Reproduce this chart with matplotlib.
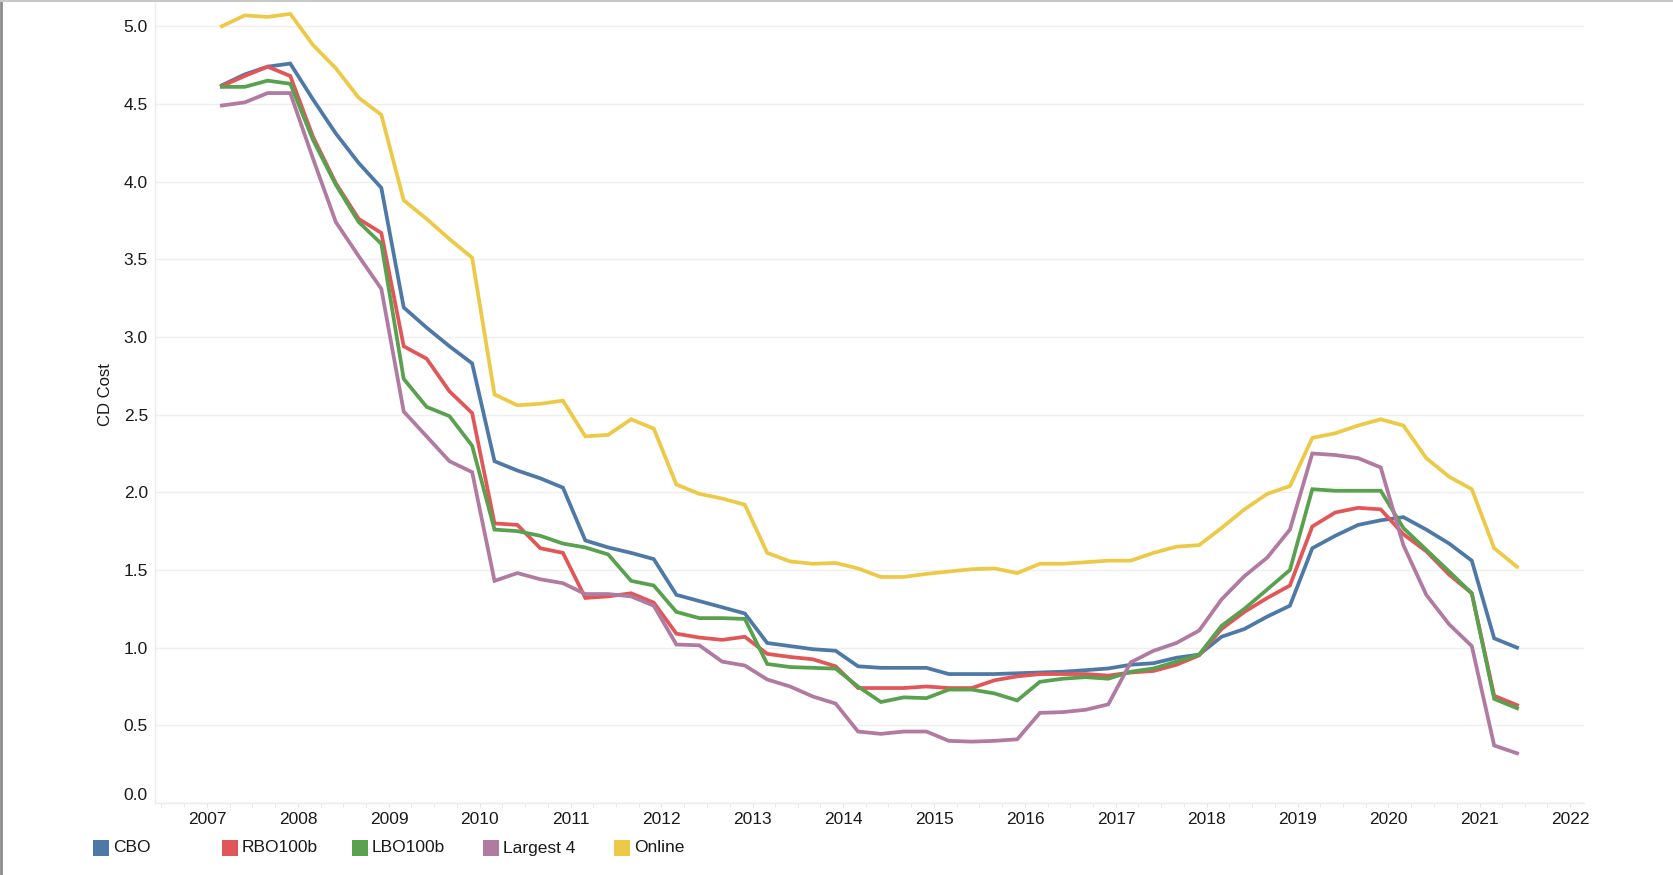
import datetime

import matplotlib.dates as mdates
import matplotlib.pyplot as plt
import pandas as pd
from matplotlib.lines import Line2D
from matplotlib.patches import Rectangle

plt.rcParams["font.family"] = ["Liberation Sans", "DejaVu Sans"]

# quarterly observations, Mar 2007 .. Jun 2021
dates = pd.date_range("2007-03-01", periods=58, freq="3MS")

cbo = [4.62, 4.69, 4.74, 4.76, 4.53, 4.31, 4.12, 3.96, 3.19, 3.06, 2.94, 2.83,
       2.20, 2.14, 2.09, 2.03, 1.69, 1.645, 1.61, 1.57,
       1.34, 1.30, 1.26, 1.22, 1.03, 1.01, 0.99, 0.98,
       0.88, 0.87, 0.87, 0.87, 0.83, 0.83, 0.83, 0.835,
       0.84, 0.845, 0.855, 0.866, 0.89, 0.90, 0.935, 0.955,
       1.07, 1.12, 1.20, 1.27, 1.64, 1.72, 1.79, 1.82,
       1.84, 1.76, 1.67, 1.56, 1.06, 1.00]

rbo100b = [4.615, 4.68, 4.74, 4.68, 4.29, 3.99, 3.76, 3.67, 2.94, 2.86, 2.65, 2.51,
           1.80, 1.79, 1.64, 1.61, 1.32, 1.33, 1.35, 1.29,
           1.09, 1.065, 1.05, 1.07, 0.96, 0.94, 0.925, 0.88,
           0.74, 0.74, 0.74, 0.75, 0.74, 0.74, 0.79, 0.815,
           0.83, 0.83, 0.83, 0.82, 0.84, 0.85, 0.89, 0.95,
           1.12, 1.23, 1.32, 1.40, 1.78, 1.87, 1.90, 1.89,
           1.73, 1.62, 1.47, 1.35, 0.69, 0.63]

lbo100b = [4.61, 4.61, 4.65, 4.63, 4.27, 3.98, 3.74, 3.60, 2.73, 2.55, 2.49, 2.30,
           1.76, 1.75, 1.72, 1.67, 1.645, 1.60, 1.43, 1.40,
           1.23, 1.19, 1.19, 1.185, 0.895, 0.875, 0.87, 0.865,
           0.75, 0.65, 0.68, 0.675, 0.73, 0.73, 0.705, 0.66,
           0.78, 0.80, 0.81, 0.80, 0.845, 0.866, 0.91, 0.955,
           1.14, 1.25, 1.375, 1.50, 2.02, 2.01, 2.01, 2.01,
           1.77, 1.63, 1.49, 1.35, 0.67, 0.61]

largest4 = [4.49, 4.51, 4.57, 4.57, 4.15, 3.74, 3.52, 3.31, 2.52, 2.36, 2.20, 2.13,
            1.43, 1.48, 1.44, 1.415, 1.345, 1.345, 1.33, 1.27,
            1.02, 1.015, 0.91, 0.885, 0.795, 0.75, 0.685, 0.64,
            0.46, 0.445, 0.46, 0.46, 0.40, 0.395, 0.40, 0.41,
            0.58, 0.585, 0.60, 0.635, 0.905, 0.98, 1.03, 1.11,
            1.31, 1.46, 1.58, 1.76, 2.25, 2.24, 2.22, 2.16,
            1.66, 1.34, 1.15, 1.01, 0.37, 0.32]

online = [5.00, 5.07, 5.06, 5.08, 4.88, 4.73, 4.54, 4.43, 3.88, 3.76, 3.63, 3.51,
          2.63, 2.56, 2.57, 2.59, 2.36, 2.37, 2.47, 2.41,
          2.05, 1.99, 1.96, 1.92, 1.61, 1.555, 1.54, 1.545,
          1.51, 1.455, 1.455, 1.475, 1.49, 1.505, 1.51, 1.48,
          1.54, 1.54, 1.55, 1.56, 1.56, 1.61, 1.65, 1.66,
          1.77, 1.89, 1.99, 2.04, 2.35, 2.38, 2.43, 2.47,
          2.43, 2.22, 2.10, 2.02, 1.64, 1.52]

series_names = ["CBO", "RBO100b", "LBO100b", "Largest 4", "Online"]
series_values = [cbo, rbo100b, lbo100b, largest4, online]
colors = ["#4e79a7", "#e15759", "#59a14f", "#b07aa1", "#edc948"]

fig = plt.figure(figsize=(16.73, 8.75), dpi=100)
ax = fig.add_axes([0.0926, 0.0823, 0.8542, 0.9143])

for name, vals, c in zip(series_names, series_values, colors):
    ax.plot(dates, vals, color=c, lw=2.7, label=name, solid_joinstyle="miter")

ax.set_xlim(datetime.date(2006, 6, 5), datetime.date(2022, 2, 25))
ax.set_ylim(0, 5.15)
ax.set_yticks([0, 0.5, 1.0, 1.5, 2.0, 2.5, 3.0, 3.5, 4.0, 4.5, 5.0])
ax.yaxis.set_major_formatter(plt.FormatStrFormatter("%.1f"))

ax.xaxis.set_major_locator(mdates.YearLocator())
ax.xaxis.set_minor_locator(mdates.MonthLocator(bymonth=(1, 4, 7, 10)))
ax.xaxis.set_major_formatter(mdates.DateFormatter("%Y"))

ax.grid(axis="y", color="#efefef", lw=1)
ax.grid(axis="x", visible=False)
for s in ["top", "right"]:
    ax.spines[s].set_visible(False)
for s in ["left", "bottom"]:
    ax.spines[s].set_color("#ebebeb")
    ax.spines[s].set_linewidth(1)

ax.tick_params(axis="y", length=0, pad=5, labelsize=12.5, labelcolor="#1a1a1a")
ax.tick_params(axis="x", which="both", length=3, color="#e4e4e4", pad=3.5,
               labelsize=12.5, labelcolor="#1a1a1a")
# the 0.0 label sits just above the axis line
ax.get_yticklabels()[0].set_va("bottom")

ax.set_ylabel("CD Cost", fontsize=12, color="#1a1a1a")
ax.yaxis.set_label_coords(-0.029, 0.51)

# legend along the bottom, fixed spacing
leg_x = [93, 222, 352, 483, 614]
W, H = 1673, 875
for x, name, c in zip(leg_x, series_names, colors):
    fig.add_artist(Rectangle((x / W, (H - 856) / H), 16 / W, 16 / H,
                             transform=fig.transFigure, color=c, lw=0))
    fig.text((x + 20) / W, (H - 848) / H, name, fontsize=12.5,
             color="#1a1a1a", va="center", ha="left")

# screenshot frame
fig.add_artist(Line2D([0.0006, 0.0006], [0, 1], transform=fig.transFigure,
                      color="#8c8c8c", lw=2))
fig.add_artist(Line2D([0, 1], [0.999, 0.999], transform=fig.transFigure,
                      color="#c8c8c8", lw=1.5))

fig.savefig("out.png", dpi=100)
